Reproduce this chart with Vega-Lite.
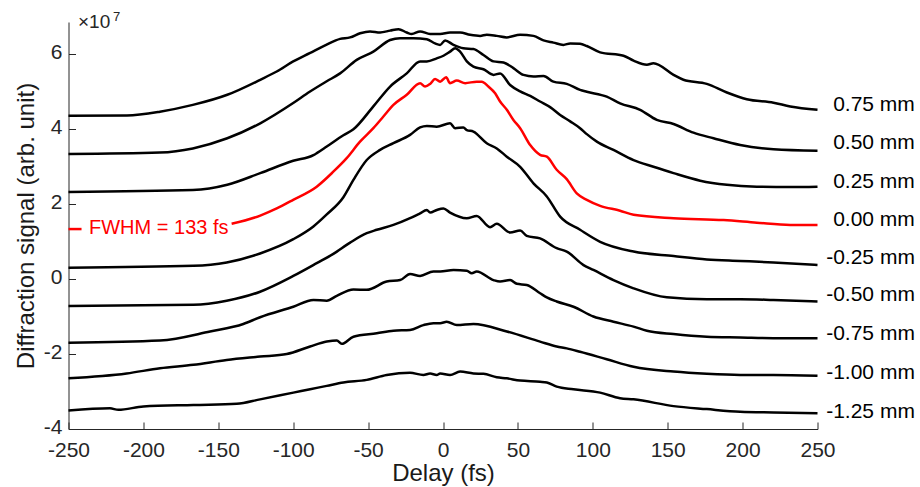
{
  "$schema": "https://vega.github.io/schema/vega-lite/v6.json",
  "autosize": "none",
  "width": 749,
  "height": 407,
  "padding": {"left": 68.5, "top": 22, "right": 102.5, "bottom": 58},
  "background": "white",
  "config": {
    "view": {"stroke": null},
    "font": "Liberation Sans",
    "axis": {
      "labelFont": "Liberation Sans",
      "labelFontSize": 21,
      "labelColor": "#262626",
      "labelFlush": false,
      "labelOverlap": false,
      "labelExpr": "'' + datum.value",
      "domainColor": "#262626",
      "domainWidth": 1,
      "tickColor": "#262626",
      "tickWidth": 1,
      "grid": false,
      "titleFont": "Liberation Sans",
      "titleFontSize": 24,
      "titleFontWeight": "normal",
      "titleColor": "#1a1a1a"
    }
  },
  "datasets": {
    "curves": [
      {"s":"0.75 mm","g":"a","x":-250,"y":4.35},{"s":"0.75 mm","g":"a","x":-211,"y":4.36},{"s":"0.75 mm","g":"a","x":-189,"y":4.46},{"s":"0.75 mm","g":"a","x":-167,"y":4.64},{"s":"0.75 mm","g":"a","x":-144,"y":4.91},{"s":"0.75 mm","g":"a","x":-122,"y":5.31},{"s":"0.75 mm","g":"a","x":-111,"y":5.53},{"s":"0.75 mm","g":"a","x":-100,"y":5.8},{"s":"0.75 mm","g":"a","x":-89,"y":6.02},{"s":"0.75 mm","g":"a","x":-78,"y":6.24},{"s":"0.75 mm","g":"a","x":-68.7,"y":6.4},{"s":"0.75 mm","g":"a","x":-62,"y":6.44},{"s":"0.75 mm","g":"a","x":-55.3,"y":6.55},{"s":"0.75 mm","g":"a","x":-48.7,"y":6.6},{"s":"0.75 mm","g":"a","x":-42,"y":6.57},{"s":"0.75 mm","g":"a","x":-35.3,"y":6.62},{"s":"0.75 mm","g":"a","x":-29.7,"y":6.66},{"s":"0.75 mm","g":"a","x":-24.2,"y":6.57},{"s":"0.75 mm","g":"a","x":-20.9,"y":6.53},{"s":"0.75 mm","g":"a","x":-15.3,"y":6.6},{"s":"0.75 mm","g":"a","x":-8.6,"y":6.53},{"s":"0.75 mm","g":"a","x":-1.9,"y":6.53},{"s":"0.75 mm","g":"a","x":4.7,"y":6.57},{"s":"0.75 mm","g":"a","x":11.4,"y":6.57},{"s":"0.75 mm","g":"a","x":18.1,"y":6.51},{"s":"0.75 mm","g":"a","x":24.8,"y":6.48},{"s":"0.75 mm","g":"a","x":29.2,"y":6.51},{"s":"0.75 mm","g":"a","x":35.9,"y":6.48},{"s":"0.75 mm","g":"a","x":42.6,"y":6.44},{"s":"0.75 mm","g":"a","x":51.5,"y":6.51},{"s":"0.75 mm","g":"a","x":60.4,"y":6.48},{"s":"0.75 mm","g":"a","x":67.1,"y":6.36},{"s":"0.75 mm","g":"a","x":73.7,"y":6.3},{"s":"0.75 mm","g":"a","x":80.4,"y":6.24},{"s":"0.75 mm","g":"a","x":84.9,"y":6.28},{"s":"0.75 mm","g":"a","x":91.5,"y":6.27},{"s":"0.75 mm","g":"a","x":96,"y":6.21},{"s":"0.75 mm","g":"a","x":104.9,"y":6.04},{"s":"0.75 mm","g":"a","x":120.5,"y":5.95},{"s":"0.75 mm","g":"a","x":127.2,"y":5.82},{"s":"0.75 mm","g":"a","x":136.1,"y":5.71},{"s":"0.75 mm","g":"a","x":140.5,"y":5.75},{"s":"0.75 mm","g":"a","x":153.9,"y":5.44},{"s":"0.75 mm","g":"a","x":160.5,"y":5.31},{"s":"0.75 mm","g":"a","x":176.1,"y":5.2},{"s":"0.75 mm","g":"a","x":189.5,"y":4.97},{"s":"0.75 mm","g":"a","x":202.8,"y":4.79},{"s":"0.75 mm","g":"a","x":220.6,"y":4.7},{"s":"0.75 mm","g":"a","x":231.8,"y":4.6},{"s":"0.75 mm","g":"a","x":250,"y":4.51},

      {"s":"0.50 mm","g":"b","x":-250,"y":3.33},{"s":"0.50 mm","g":"b","x":-189,"y":3.37},{"s":"0.50 mm","g":"b","x":-167,"y":3.48},{"s":"0.50 mm","g":"b","x":-144,"y":3.75},{"s":"0.50 mm","g":"b","x":-122,"y":4.15},{"s":"0.50 mm","g":"b","x":-100,"y":4.69},{"s":"0.50 mm","g":"b","x":-89,"y":4.99},{"s":"0.50 mm","g":"b","x":-77.6,"y":5.27},{"s":"0.50 mm","g":"b","x":-68.7,"y":5.48},{"s":"0.50 mm","g":"b","x":-57.6,"y":5.84},{"s":"0.50 mm","g":"b","x":-46.5,"y":6.06},{"s":"0.50 mm","g":"b","x":-35.3,"y":6.37},{"s":"0.50 mm","g":"b","x":-28.7,"y":6.42},{"s":"0.50 mm","g":"b","x":-19.7,"y":6.42},{"s":"0.50 mm","g":"b","x":-10.8,"y":6.39},{"s":"0.50 mm","g":"b","x":-5.3,"y":6.28},{"s":"0.50 mm","g":"b","x":-1.9,"y":6.24},{"s":"0.50 mm","g":"b","x":1.4,"y":6.36},{"s":"0.50 mm","g":"b","x":7,"y":6.24},{"s":"0.50 mm","g":"b","x":13.6,"y":6.15},{"s":"0.50 mm","g":"b","x":20.3,"y":6.13},{"s":"0.50 mm","g":"b","x":27,"y":5.97},{"s":"0.50 mm","g":"b","x":33.7,"y":5.8},{"s":"0.50 mm","g":"b","x":40.4,"y":5.77},{"s":"0.50 mm","g":"b","x":47,"y":5.62},{"s":"0.50 mm","g":"b","x":53.7,"y":5.44},{"s":"0.50 mm","g":"b","x":60.4,"y":5.4},{"s":"0.50 mm","g":"b","x":67.1,"y":5.41},{"s":"0.50 mm","g":"b","x":73.7,"y":5.26},{"s":"0.50 mm","g":"b","x":82.6,"y":5.2},{"s":"0.50 mm","g":"b","x":91.5,"y":5.04},{"s":"0.50 mm","g":"b","x":96,"y":4.99},{"s":"0.50 mm","g":"b","x":109.3,"y":4.86},{"s":"0.50 mm","g":"b","x":118.2,"y":4.68},{"s":"0.50 mm","g":"b","x":131.6,"y":4.51},{"s":"0.50 mm","g":"b","x":142.7,"y":4.24},{"s":"0.50 mm","g":"b","x":153.9,"y":4.13},{"s":"0.50 mm","g":"b","x":167.2,"y":3.9},{"s":"0.50 mm","g":"b","x":180.6,"y":3.75},{"s":"0.50 mm","g":"b","x":198.4,"y":3.57},{"s":"0.50 mm","g":"b","x":220.6,"y":3.46},{"s":"0.50 mm","g":"b","x":250,"y":3.42},

      {"s":"0.25 mm","g":"c","x":-250,"y":2.32},{"s":"0.25 mm","g":"c","x":-167,"y":2.37},{"s":"0.25 mm","g":"c","x":-144,"y":2.51},{"s":"0.25 mm","g":"c","x":-122,"y":2.82},{"s":"0.25 mm","g":"c","x":-100,"y":3.15},{"s":"0.25 mm","g":"c","x":-86.5,"y":3.3},{"s":"0.25 mm","g":"c","x":-84,"y":3.36},{"s":"0.25 mm","g":"c","x":-77.6,"y":3.53},{"s":"0.25 mm","g":"c","x":-66.5,"y":3.83},{"s":"0.25 mm","g":"c","x":-59.8,"y":3.99},{"s":"0.25 mm","g":"c","x":-46.5,"y":4.6},{"s":"0.25 mm","g":"c","x":-35.3,"y":5.13},{"s":"0.25 mm","g":"c","x":-24.2,"y":5.48},{"s":"0.25 mm","g":"c","x":-15.3,"y":5.8},{"s":"0.25 mm","g":"c","x":-10.8,"y":5.8},{"s":"0.25 mm","g":"c","x":-4.2,"y":5.88},{"s":"0.25 mm","g":"c","x":0.3,"y":5.95},{"s":"0.25 mm","g":"c","x":4.7,"y":6.06},{"s":"0.25 mm","g":"c","x":8.1,"y":6.15},{"s":"0.25 mm","g":"c","x":11.4,"y":6.06},{"s":"0.25 mm","g":"c","x":15.9,"y":5.8},{"s":"0.25 mm","g":"c","x":20.3,"y":5.66},{"s":"0.25 mm","g":"c","x":27,"y":5.59},{"s":"0.25 mm","g":"c","x":33.7,"y":5.44},{"s":"0.25 mm","g":"c","x":38.1,"y":5.48},{"s":"0.25 mm","g":"c","x":44.8,"y":5.17},{"s":"0.25 mm","g":"c","x":51.5,"y":5.0},{"s":"0.25 mm","g":"c","x":58.2,"y":4.88},{"s":"0.25 mm","g":"c","x":64.8,"y":4.73},{"s":"0.25 mm","g":"c","x":71.5,"y":4.58},{"s":"0.25 mm","g":"c","x":78.2,"y":4.37},{"s":"0.25 mm","g":"c","x":84.9,"y":4.2},{"s":"0.25 mm","g":"c","x":91.5,"y":4.02},{"s":"0.25 mm","g":"c","x":96,"y":3.86},{"s":"0.25 mm","g":"c","x":102.7,"y":3.66},{"s":"0.25 mm","g":"c","x":113.8,"y":3.44},{"s":"0.25 mm","g":"c","x":127.2,"y":3.17},{"s":"0.25 mm","g":"c","x":140.5,"y":2.99},{"s":"0.25 mm","g":"c","x":153.9,"y":2.82},{"s":"0.25 mm","g":"c","x":171.7,"y":2.62},{"s":"0.25 mm","g":"c","x":189.5,"y":2.51},{"s":"0.25 mm","g":"c","x":209.5,"y":2.46},{"s":"0.25 mm","g":"c","x":231.8,"y":2.45},{"s":"0.25 mm","g":"c","x":250,"y":2.46},

      {"s":"0.00 mm","g":"d1","x":-250,"y":1.33},{"s":"0.00 mm","g":"d1","x":-241.3,"y":1.33},
      {"s":"0.00 mm","g":"d2","x":-141.1,"y":1.47},{"s":"0.00 mm","g":"d2","x":-122,"y":1.69},{"s":"0.00 mm","g":"d2","x":-111,"y":1.88},{"s":"0.00 mm","g":"d2","x":-100,"y":2.11},{"s":"0.00 mm","g":"d2","x":-84.3,"y":2.46},{"s":"0.00 mm","g":"d2","x":-73.2,"y":2.86},{"s":"0.00 mm","g":"d2","x":-64.3,"y":3.22},{"s":"0.00 mm","g":"d2","x":-55.4,"y":3.66},{"s":"0.00 mm","g":"d2","x":-46.5,"y":4.02},{"s":"0.00 mm","g":"d2","x":-39.8,"y":4.33},{"s":"0.00 mm","g":"d2","x":-33.1,"y":4.64},{"s":"0.00 mm","g":"d2","x":-24.2,"y":4.91},{"s":"0.00 mm","g":"d2","x":-15.3,"y":5.22},{"s":"0.00 mm","g":"d2","x":-12,"y":5.13},{"s":"0.00 mm","g":"d2","x":-8.6,"y":5.2},{"s":"0.00 mm","g":"d2","x":-5.3,"y":5.33},{"s":"0.00 mm","g":"d2","x":-1.9,"y":5.26},{"s":"0.00 mm","g":"d2","x":2.1,"y":5.38},{"s":"0.00 mm","g":"d2","x":4.7,"y":5.22},{"s":"0.00 mm","g":"d2","x":9.2,"y":5.29},{"s":"0.00 mm","g":"d2","x":14.8,"y":5.22},{"s":"0.00 mm","g":"d2","x":22.5,"y":5.26},{"s":"0.00 mm","g":"d2","x":25.9,"y":5.26},{"s":"0.00 mm","g":"d2","x":30.3,"y":5.13},{"s":"0.00 mm","g":"d2","x":34.8,"y":4.95},{"s":"0.00 mm","g":"d2","x":38.1,"y":4.73},{"s":"0.00 mm","g":"d2","x":42.6,"y":4.51},{"s":"0.00 mm","g":"d2","x":47,"y":4.24},{"s":"0.00 mm","g":"d2","x":51.5,"y":4.02},{"s":"0.00 mm","g":"d2","x":58.2,"y":3.57},{"s":"0.00 mm","g":"d2","x":64.8,"y":3.31},{"s":"0.00 mm","g":"d2","x":69.3,"y":3.26},{"s":"0.00 mm","g":"d2","x":75.9,"y":2.91},{"s":"0.00 mm","g":"d2","x":82.6,"y":2.66},{"s":"0.00 mm","g":"d2","x":89.3,"y":2.28},{"s":"0.00 mm","g":"d2","x":96,"y":2.11},{"s":"0.00 mm","g":"d2","x":104.9,"y":1.95},{"s":"0.00 mm","g":"d2","x":118.2,"y":1.82},{"s":"0.00 mm","g":"d2","x":127.2,"y":1.71},{"s":"0.00 mm","g":"d2","x":153.9,"y":1.62},{"s":"0.00 mm","g":"d2","x":187.3,"y":1.57},{"s":"0.00 mm","g":"d2","x":209.5,"y":1.5},{"s":"0.00 mm","g":"d2","x":231.8,"y":1.44},{"s":"0.00 mm","g":"d2","x":250,"y":1.44},

      {"s":"-0.25 mm","g":"e","x":-250,"y":0.3},{"s":"-0.25 mm","g":"e","x":-166.6,"y":0.35},{"s":"-0.25 mm","g":"e","x":-144.4,"y":0.44},{"s":"-0.25 mm","g":"e","x":-122.1,"y":0.68},{"s":"-0.25 mm","g":"e","x":-99.9,"y":1.06},{"s":"-0.25 mm","g":"e","x":-86.5,"y":1.4},{"s":"-0.25 mm","g":"e","x":-77.6,"y":1.72},{"s":"-0.25 mm","g":"e","x":-66.5,"y":2.18},{"s":"-0.25 mm","g":"e","x":-59.8,"y":2.64},{"s":"-0.25 mm","g":"e","x":-50.9,"y":3.17},{"s":"-0.25 mm","g":"e","x":-42,"y":3.44},{"s":"-0.25 mm","g":"e","x":-33.1,"y":3.62},{"s":"-0.25 mm","g":"e","x":-22,"y":3.84},{"s":"-0.25 mm","g":"e","x":-15.3,"y":4.04},{"s":"-0.25 mm","g":"e","x":-10.8,"y":4.08},{"s":"-0.25 mm","g":"e","x":-4.2,"y":4.06},{"s":"-0.25 mm","g":"e","x":4.7,"y":4.15},{"s":"-0.25 mm","g":"e","x":8.1,"y":4.02},{"s":"-0.25 mm","g":"e","x":13.6,"y":4.04},{"s":"-0.25 mm","g":"e","x":15.9,"y":3.97},{"s":"-0.25 mm","g":"e","x":20.3,"y":3.93},{"s":"-0.25 mm","g":"e","x":29.2,"y":3.62},{"s":"-0.25 mm","g":"e","x":35.9,"y":3.48},{"s":"-0.25 mm","g":"e","x":42.6,"y":3.26},{"s":"-0.25 mm","g":"e","x":51.5,"y":2.99},{"s":"-0.25 mm","g":"e","x":60.4,"y":2.55},{"s":"-0.25 mm","g":"e","x":69.3,"y":2.2},{"s":"-0.25 mm","g":"e","x":78.2,"y":1.66},{"s":"-0.25 mm","g":"e","x":91.5,"y":1.31},{"s":"-0.25 mm","g":"e","x":104.9,"y":0.99},{"s":"-0.25 mm","g":"e","x":127.2,"y":0.73},{"s":"-0.25 mm","g":"e","x":153.9,"y":0.61},{"s":"-0.25 mm","g":"e","x":176.1,"y":0.52},{"s":"-0.25 mm","g":"e","x":198.4,"y":0.48},{"s":"-0.25 mm","g":"e","x":220.6,"y":0.44},{"s":"-0.25 mm","g":"e","x":250,"y":0.37},

      {"s":"-0.50 mm","g":"f","x":-250,"y":-0.72},{"s":"-0.50 mm","g":"f","x":-166.6,"y":-0.69},{"s":"-0.50 mm","g":"f","x":-144.4,"y":-0.58},{"s":"-0.50 mm","g":"f","x":-122.1,"y":-0.34},{"s":"-0.50 mm","g":"f","x":-99.9,"y":0.08},{"s":"-0.50 mm","g":"f","x":-84.3,"y":0.42},{"s":"-0.50 mm","g":"f","x":-73.2,"y":0.67},{"s":"-0.50 mm","g":"f","x":-62,"y":0.97},{"s":"-0.50 mm","g":"f","x":-50.9,"y":1.22},{"s":"-0.50 mm","g":"f","x":-44.2,"y":1.31},{"s":"-0.50 mm","g":"f","x":-33.1,"y":1.44},{"s":"-0.50 mm","g":"f","x":-22,"y":1.62},{"s":"-0.50 mm","g":"f","x":-15.3,"y":1.75},{"s":"-0.50 mm","g":"f","x":-10.8,"y":1.84},{"s":"-0.50 mm","g":"f","x":-8.6,"y":1.77},{"s":"-0.50 mm","g":"f","x":-4.2,"y":1.84},{"s":"-0.50 mm","g":"f","x":0.3,"y":1.88},{"s":"-0.50 mm","g":"f","x":4.7,"y":1.77},{"s":"-0.50 mm","g":"f","x":15.9,"y":1.62},{"s":"-0.50 mm","g":"f","x":22.5,"y":1.68},{"s":"-0.50 mm","g":"f","x":31.4,"y":1.38},{"s":"-0.50 mm","g":"f","x":35.9,"y":1.47},{"s":"-0.50 mm","g":"f","x":44.8,"y":1.24},{"s":"-0.50 mm","g":"f","x":51.5,"y":1.29},{"s":"-0.50 mm","g":"f","x":55.9,"y":1.15},{"s":"-0.50 mm","g":"f","x":64.8,"y":1.08},{"s":"-0.50 mm","g":"f","x":75.9,"y":0.82},{"s":"-0.50 mm","g":"f","x":82.6,"y":0.73},{"s":"-0.50 mm","g":"f","x":93.8,"y":0.37},{"s":"-0.50 mm","g":"f","x":100.4,"y":0.24},{"s":"-0.50 mm","g":"f","x":113.8,"y":-0.03},{"s":"-0.50 mm","g":"f","x":127.2,"y":-0.25},{"s":"-0.50 mm","g":"f","x":149.4,"y":-0.49},{"s":"-0.50 mm","g":"f","x":176.1,"y":-0.54},{"s":"-0.50 mm","g":"f","x":198.4,"y":-0.54},{"s":"-0.50 mm","g":"f","x":220.6,"y":-0.56},{"s":"-0.50 mm","g":"f","x":250,"y":-0.6},

      {"s":"-0.75 mm","g":"h","x":-250,"y":-1.7},{"s":"-0.75 mm","g":"h","x":-188.9,"y":-1.64},{"s":"-0.75 mm","g":"h","x":-155.5,"y":-1.4},{"s":"-0.75 mm","g":"h","x":-133.3,"y":-1.2},{"s":"-0.75 mm","g":"h","x":-122.1,"y":-1.02},{"s":"-0.75 mm","g":"h","x":-99.9,"y":-0.74},{"s":"-0.75 mm","g":"h","x":-86.5,"y":-0.56},{"s":"-0.75 mm","g":"h","x":-77.6,"y":-0.58},{"s":"-0.75 mm","g":"h","x":-70.9,"y":-0.45},{"s":"-0.75 mm","g":"h","x":-59.8,"y":-0.28},{"s":"-0.75 mm","g":"h","x":-50.9,"y":-0.29},{"s":"-0.75 mm","g":"h","x":-37.6,"y":-0.07},{"s":"-0.75 mm","g":"h","x":-28.6,"y":-0.03},{"s":"-0.75 mm","g":"h","x":-22,"y":0.13},{"s":"-0.75 mm","g":"h","x":-15.3,"y":0.08},{"s":"-0.75 mm","g":"h","x":-6.4,"y":0.2},{"s":"-0.75 mm","g":"h","x":-1.9,"y":0.2},{"s":"-0.75 mm","g":"h","x":7,"y":0.24},{"s":"-0.75 mm","g":"h","x":15.9,"y":0.22},{"s":"-0.75 mm","g":"h","x":19.2,"y":0.15},{"s":"-0.75 mm","g":"h","x":22.5,"y":0.2},{"s":"-0.75 mm","g":"h","x":33.7,"y":-0.03},{"s":"-0.75 mm","g":"h","x":38.1,"y":-0.07},{"s":"-0.75 mm","g":"h","x":44.8,"y":-0.03},{"s":"-0.75 mm","g":"h","x":49.3,"y":-0.13},{"s":"-0.75 mm","g":"h","x":55.9,"y":-0.16},{"s":"-0.75 mm","g":"h","x":64.8,"y":-0.38},{"s":"-0.75 mm","g":"h","x":69.3,"y":-0.49},{"s":"-0.75 mm","g":"h","x":75.9,"y":-0.6},{"s":"-0.75 mm","g":"h","x":87.1,"y":-0.74},{"s":"-0.75 mm","g":"h","x":100.4,"y":-1.0},{"s":"-0.75 mm","g":"h","x":113.8,"y":-1.14},{"s":"-0.75 mm","g":"h","x":127.2,"y":-1.27},{"s":"-0.75 mm","g":"h","x":136.1,"y":-1.38},{"s":"-0.75 mm","g":"h","x":153.9,"y":-1.47},{"s":"-0.75 mm","g":"h","x":176.1,"y":-1.54},{"s":"-0.75 mm","g":"h","x":198.4,"y":-1.56},{"s":"-0.75 mm","g":"h","x":220.6,"y":-1.58},{"s":"-0.75 mm","g":"h","x":250,"y":-1.58},

      {"s":"-1.00 mm","g":"i","x":-250,"y":-2.65},{"s":"-1.00 mm","g":"i","x":-211.2,"y":-2.52},{"s":"-1.00 mm","g":"i","x":-188.9,"y":-2.38},{"s":"-1.00 mm","g":"i","x":-166.6,"y":-2.29},{"s":"-1.00 mm","g":"i","x":-144.4,"y":-2.16},{"s":"-1.00 mm","g":"i","x":-122.1,"y":-2.07},{"s":"-1.00 mm","g":"i","x":-104.3,"y":-2.0},{"s":"-1.00 mm","g":"i","x":-88.7,"y":-1.8},{"s":"-1.00 mm","g":"i","x":-77.6,"y":-1.67},{"s":"-1.00 mm","g":"i","x":-70.9,"y":-1.64},{"s":"-1.00 mm","g":"i","x":-67.6,"y":-1.73},{"s":"-1.00 mm","g":"i","x":-59.8,"y":-1.54},{"s":"-1.00 mm","g":"i","x":-44.2,"y":-1.45},{"s":"-1.00 mm","g":"i","x":-33.1,"y":-1.38},{"s":"-1.00 mm","g":"i","x":-22,"y":-1.36},{"s":"-1.00 mm","g":"i","x":-13.1,"y":-1.23},{"s":"-1.00 mm","g":"i","x":-6.4,"y":-1.18},{"s":"-1.00 mm","g":"i","x":-1.9,"y":-1.18},{"s":"-1.00 mm","g":"i","x":2.5,"y":-1.14},{"s":"-1.00 mm","g":"i","x":9.2,"y":-1.23},{"s":"-1.00 mm","g":"i","x":20.3,"y":-1.2},{"s":"-1.00 mm","g":"i","x":42.6,"y":-1.4},{"s":"-1.00 mm","g":"i","x":64.8,"y":-1.67},{"s":"-1.00 mm","g":"i","x":75.9,"y":-1.8},{"s":"-1.00 mm","g":"i","x":82.6,"y":-1.85},{"s":"-1.00 mm","g":"i","x":91.5,"y":-1.94},{"s":"-1.00 mm","g":"i","x":109.3,"y":-2.14},{"s":"-1.00 mm","g":"i","x":127.2,"y":-2.34},{"s":"-1.00 mm","g":"i","x":153.9,"y":-2.47},{"s":"-1.00 mm","g":"i","x":176.1,"y":-2.53},{"s":"-1.00 mm","g":"i","x":198.4,"y":-2.56},{"s":"-1.00 mm","g":"i","x":220.6,"y":-2.56},{"s":"-1.00 mm","g":"i","x":250,"y":-2.58},

      {"s":"-1.25 mm","g":"j","x":-250,"y":-3.51},{"s":"-1.25 mm","g":"j","x":-222.3,"y":-3.45},{"s":"-1.25 mm","g":"j","x":-216.7,"y":-3.49},{"s":"-1.25 mm","g":"j","x":-200,"y":-3.4},{"s":"-1.25 mm","g":"j","x":-166.6,"y":-3.36},{"s":"-1.25 mm","g":"j","x":-137.7,"y":-3.33},{"s":"-1.25 mm","g":"j","x":-122.1,"y":-3.21},{"s":"-1.25 mm","g":"j","x":-99.9,"y":-3.03},{"s":"-1.25 mm","g":"j","x":-88.7,"y":-2.94},{"s":"-1.25 mm","g":"j","x":-77.6,"y":-2.85},{"s":"-1.25 mm","g":"j","x":-66.5,"y":-2.76},{"s":"-1.25 mm","g":"j","x":-50.9,"y":-2.69},{"s":"-1.25 mm","g":"j","x":-37.6,"y":-2.56},{"s":"-1.25 mm","g":"j","x":-22,"y":-2.5},{"s":"-1.25 mm","g":"j","x":-13.1,"y":-2.56},{"s":"-1.25 mm","g":"j","x":-8.6,"y":-2.52},{"s":"-1.25 mm","g":"j","x":-4.2,"y":-2.56},{"s":"-1.25 mm","g":"j","x":-1.9,"y":-2.52},{"s":"-1.25 mm","g":"j","x":4.7,"y":-2.56},{"s":"-1.25 mm","g":"j","x":11.4,"y":-2.47},{"s":"-1.25 mm","g":"j","x":20.3,"y":-2.52},{"s":"-1.25 mm","g":"j","x":27,"y":-2.53},{"s":"-1.25 mm","g":"j","x":35.9,"y":-2.62},{"s":"-1.25 mm","g":"j","x":42.6,"y":-2.65},{"s":"-1.25 mm","g":"j","x":51.5,"y":-2.71},{"s":"-1.25 mm","g":"j","x":64.8,"y":-2.74},{"s":"-1.25 mm","g":"j","x":69.3,"y":-2.76},{"s":"-1.25 mm","g":"j","x":75.9,"y":-2.87},{"s":"-1.25 mm","g":"j","x":87.1,"y":-2.94},{"s":"-1.25 mm","g":"j","x":104.9,"y":-3.03},{"s":"-1.25 mm","g":"j","x":118.2,"y":-3.18},{"s":"-1.25 mm","g":"j","x":127.2,"y":-3.21},{"s":"-1.25 mm","g":"j","x":153.9,"y":-3.39},{"s":"-1.25 mm","g":"j","x":176.1,"y":-3.47},{"s":"-1.25 mm","g":"j","x":198.4,"y":-3.54},{"s":"-1.25 mm","g":"j","x":220.6,"y":-3.56},{"s":"-1.25 mm","g":"j","x":250,"y":-3.58}
    ],
    "labels": [
      {"t":"0.75 mm","y":4.64},{"t":"0.50 mm","y":3.63},{"t":"0.25 mm","y":2.59},{"t":"0.00 mm","y":1.57},{"t":"-0.25 mm","y":0.56},{"t":"-0.50 mm","y":-0.43},{"t":"-0.75 mm","y":-1.47},{"t":"-1.00 mm","y":-2.51},{"t":"-1.25 mm","y":-3.55}
    ],
    "note": [{"t":"FWHM = 133 fs","x":-236.3,"y":1.35}]
  },
  "layer": [
    {
      "data": {"name": "curves"},
      "mark": {"type": "line", "strokeWidth": 2.5, "strokeJoin": "round", "interpolate": "monotone"},
      "encoding": {
        "x": {"field": "x", "type": "quantitative",
              "scale": {"domain": [-250, 250], "nice": false, "zero": false},
              "axis": {"values": [-250,-200,-150,-100,-50,0,50,100,150,200,250], "tickSize": -7, "labelPadding": 34, "labelBaseline": "alphabetic",
                       "title": "Delay (fs)", "titleX": 374.5, "titleY": 51.5, "titleBaseline": "alphabetic"}},
        "y": {"field": "y", "type": "quantitative",
              "scale": {"domain": [-4, 6.85], "nice": false, "zero": false},
              "axis": {"values": [-4,-2,0,2,4,6], "tickSize": -7, "labelPadding": 13.5, "labelOffset": -1.5,
                       "title": "Diffraction signal (arb. unit)", "titleX": -35.5, "titleY": 203.5, "titleBaseline": "alphabetic", "titleAlign": "center", "titleAngle": -90}},
        "color": {"field": "s", "type": "nominal", "legend": null,
                  "scale": {"domain": ["0.75 mm","0.50 mm","0.25 mm","0.00 mm","-0.25 mm","-0.50 mm","-0.75 mm","-1.00 mm","-1.25 mm"],
                            "range": ["#000000","#000000","#000000","#ff0000","#000000","#000000","#000000","#000000","#000000"]}},
        "detail": {"field": "g"}
      }
    },
    {
      "data": {"name": "labels"},
      "mark": {"type": "text", "align": "right", "baseline": "middle", "fontSize": 21, "font": "Liberation Sans", "color": "#000000"},
      "encoding": {
        "x": {"datum": 315},
        "y": {"field": "y", "type": "quantitative"},
        "text": {"field": "t"}
      }
    },
    {
      "data": {"name": "note"},
      "mark": {"type": "text", "align": "left", "baseline": "middle", "fontSize": 20, "font": "Liberation Sans", "color": "#ff0000"},
      "encoding": {
        "x": {"field": "x", "type": "quantitative"},
        "y": {"field": "y", "type": "quantitative"},
        "text": {"field": "t"}
      }
    },
    {
      "data": {"values": [{"t": "×10"}]},
      "mark": {"type": "text", "align": "left", "baseline": "alphabetic", "fontSize": 19, "font": "Liberation Sans", "color": "#262626", "dx": 9.5, "dy": 6},
      "encoding": {
        "x": {"datum": -250},
        "y": {"datum": 6.85},
        "text": {"field": "t"}
      }
    },
    {
      "data": {"values": [{"t": "7"}]},
      "mark": {"type": "text", "align": "left", "baseline": "alphabetic", "fontSize": 13, "font": "Liberation Sans", "color": "#262626", "dx": 44.5, "dy": -1},
      "encoding": {
        "x": {"datum": -250},
        "y": {"datum": 6.85},
        "text": {"field": "t"}
      }
    }
  ]
}
